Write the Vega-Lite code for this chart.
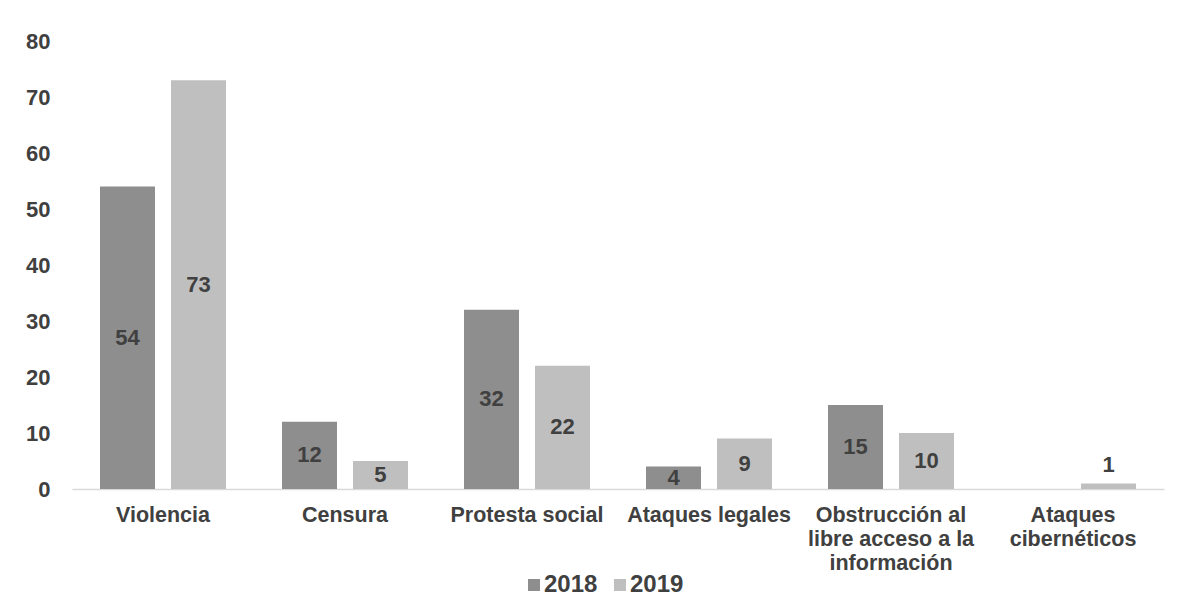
{
  "$schema": "https://vega.github.io/schema/vega-lite/v6.json",
  "width": 1092,
  "height": 448,
  "autosize": {"type": "none"},
  "padding": {"left": 72, "top": 41, "right": 13, "bottom": 113},
  "background": "white",
  "config": {"view": {"stroke": null}, "font": "Liberation Sans"},
  "data": {
    "values": [
      {"categoria": "Violencia", "anio": "2018", "valor": 54},
      {"categoria": "Violencia", "anio": "2019", "valor": 73},
      {"categoria": "Censura", "anio": "2018", "valor": 12},
      {"categoria": "Censura", "anio": "2019", "valor": 5},
      {"categoria": "Protesta social", "anio": "2018", "valor": 32},
      {"categoria": "Protesta social", "anio": "2019", "valor": 22},
      {"categoria": "Ataques legales", "anio": "2018", "valor": 4},
      {"categoria": "Ataques legales", "anio": "2019", "valor": 9},
      {"categoria": "Obstrucción al libre acceso a la información", "anio": "2018", "valor": 15},
      {"categoria": "Obstrucción al libre acceso a la información", "anio": "2019", "valor": 10},
      {"categoria": "Ataques cibernéticos", "anio": "2019", "valor": 1}
    ]
  },
  "encoding": {
    "x": {
      "field": "categoria",
      "type": "nominal",
      "sort": ["Violencia", "Censura", "Protesta social", "Ataques legales", "Obstrucción al libre acceso a la información", "Ataques cibernéticos"],
      "scale": {"paddingInner": 0.3077, "paddingOuter": 0.1538},
      "axis": {
        "title": null,
        "labelAngle": 0,
        "ticks": false,
        "tickSize": 0,
        "labelPadding": 15,
        "labelFontSize": 21.5,
        "labelFontWeight": "bold",
        "labelColor": "#404040",
        "labelLineHeight": 24,
        "labelLimit": 300,
        "domainColor": "#d9d9d9",
        "domainWidth": 1.5,
        "labelExpr": "datum.value == 'Obstrucción al libre acceso a la información' ? ['Obstrucción al', 'libre acceso a la', 'información'] : datum.value == 'Ataques cibernéticos' ? ['Ataques', 'cibernéticos'] : datum.value"
      }
    },
    "xOffset": {"field": "anio", "type": "nominal", "sort": ["2018", "2019"], "scale": {"paddingInner": 0.2254, "paddingOuter": 0}}
  },
  "layer": [
    {
      "mark": {"type": "bar"},
      "encoding": {
        "y": {
          "field": "valor",
          "type": "quantitative",
          "scale": {"domain": [0, 80], "nice": false},
          "axis": {
            "title": null,
            "values": [0, 10, 20, 30, 40, 50, 60, 70, 80],
            "grid": false,
            "domain": false,
            "ticks": false,
            "tickSize": 0,
            "labelPadding": 22,
            "labelFontSize": 22,
            "labelFontWeight": "bold",
            "labelColor": "#404040"
          }
        },
        "color": {
          "field": "anio",
          "type": "nominal",
          "scale": {"domain": ["2018", "2019"], "range": ["#8e8e8e", "#bfbfbf"]},
          "legend": {
            "orient": "none",
            "legendX": 450,
            "legendY": 532,
            "direction": "horizontal",
            "title": null,
            "symbolType": "square",
            "symbolSize": 144,
            "symbolStrokeWidth": 0,
            "labelFontSize": 24,
            "labelFontWeight": "bold",
            "labelColor": "#404040",
            "labelOffset": -2,
            "columnPadding": 10
          }
        }
      }
    },
    {
      "transform": [{"calculate": "datum.valor < 3 ? datum.valor + 3.3 : datum.valor / 2", "as": "pos"}],
      "mark": {"type": "text", "fontSize": 22, "fontWeight": "bold", "color": "#404040", "baseline": "middle"},
      "encoding": {
        "y": {
          "field": "pos",
          "type": "quantitative",
          "axis": {
            "title": null,
            "values": [0, 10, 20, 30, 40, 50, 60, 70, 80],
            "grid": false,
            "domain": false,
            "ticks": false,
            "tickSize": 0,
            "labelPadding": 22,
            "labelFontSize": 22,
            "labelFontWeight": "bold",
            "labelColor": "#404040"
          }
        },
        "text": {"field": "valor", "type": "quantitative"}
      }
    }
  ]
}
